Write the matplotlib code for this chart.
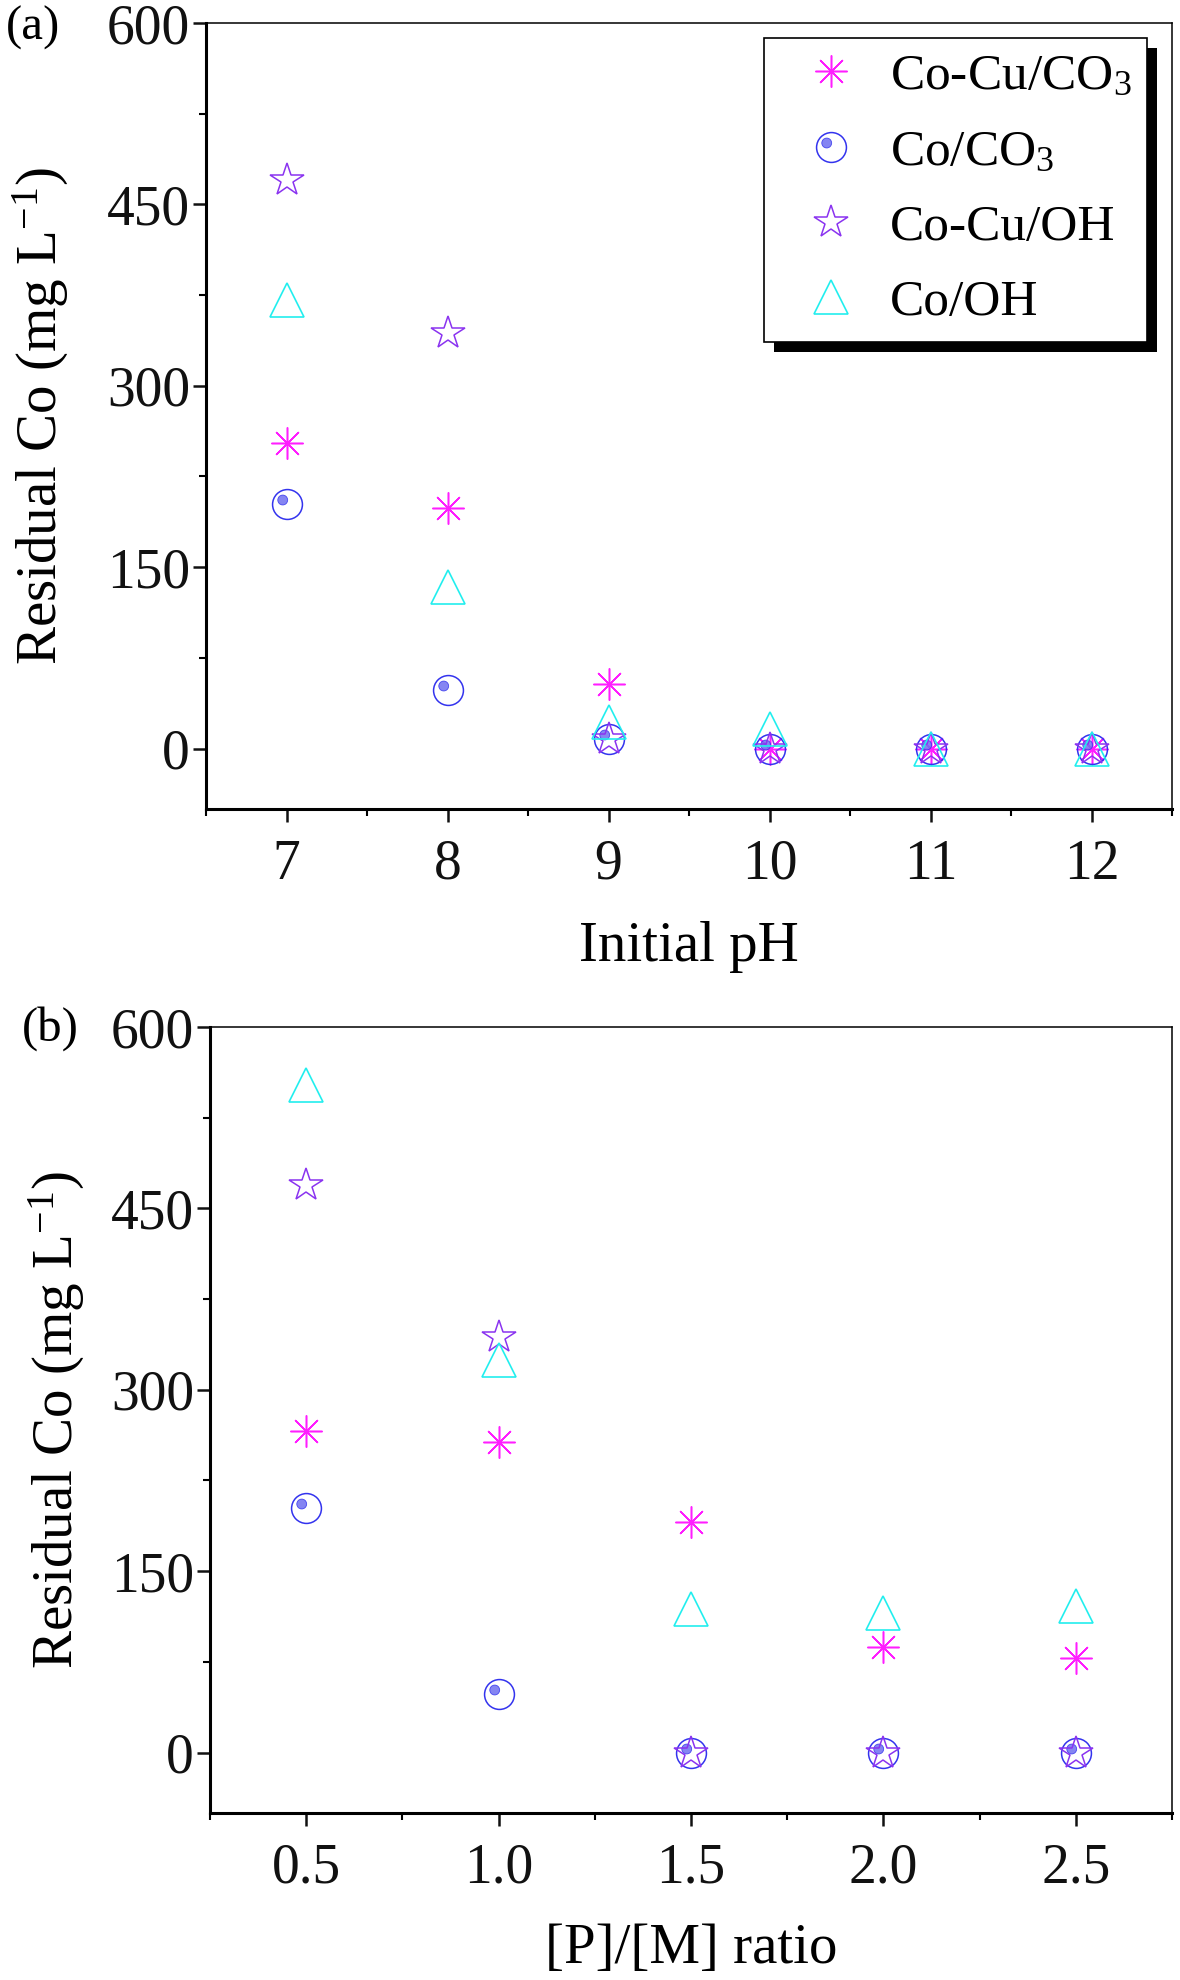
import matplotlib
matplotlib.use("Agg")
import matplotlib.pyplot as plt
import numpy as np
from matplotlib.path import Path
from matplotlib.patches import Rectangle
from matplotlib.transforms import IdentityTransform
from matplotlib.legend_handler import HandlerTuple
from matplotlib.ticker import MultipleLocator, FormatStrFormatter

# ---------------- data ----------------
ph = [7, 8, 9, 10, 11, 12]
cocu_co3_a = [253, 199, 53, 0, 0, 0]
co_co3_a = [202, 48, 8, 0, 0, 0]
cocu_oh_a = [470, 344, 8, 0, 0, 0]
co_oh_a = [371, 134, 22, 16, 0, 0]

ratio = [0.5, 1.0, 1.5, 2.0, 2.5]
cocu_co3_b = [266, 257, 191, 87, 78]
co_co3_b = [202, 48, 0, 0, 0]
cocu_oh_b = [469, 344, 0, 0, 0]
co_oh_b = [552, 325, 119, 115, 121]

series_labels = ["Co-Cu/CO$_3$", "Co/CO$_3$", "Co-Cu/OH", "Co/OH"]
y_ticks = [0, 150, 300, 450, 600]

# ---------------- style ----------------
plt.rcParams['font.family'] = ['Liberation Serif', 'DejaVu Serif']
plt.rcParams['mathtext.fontset'] = 'custom'
plt.rcParams['mathtext.rm'] = 'Liberation Serif'
plt.rcParams['mathtext.it'] = 'Liberation Serif:italic'
plt.rcParams['mathtext.bf'] = 'Liberation Serif:bold'

C_AST = '#FF1EFF'
C_CIRC = '#3333EE'
C_DOT = '#7070F0'
C_STAR = '#8A33F0'
C_TRI = '#22EEEE'

# highlight dot marker: small circle at upper-left inside the ring
_circ = Path.circle(center=(-0.32, 0.30), radius=0.33)
_verts = np.vstack([_circ.vertices, [[1, 1], [-1, -1]]])
_codes = np.concatenate([_circ.codes, [Path.MOVETO, Path.MOVETO]])
DOT_MARKER = Path(_verts, _codes)

TICK_FS = 40
LABEL_FS = 41
LEG_FS = 37

fig = plt.figure(figsize=(11.8, 19.8), dpi=100)
W, H = 1180, 1980
ax_a = fig.add_axes([206 / W, 1 - 809 / H, 966 / W, 786 / H])
ax_b = fig.add_axes([210 / W, 1 - 1813 / H, 962 / W, 786 / H])


def draw_panel(ax, x, s1, s2, s3, s4):
    h1, = ax.plot(x, s1, linestyle='none', marker=(8, 2, 0), ms=23,
                  mec=C_AST, mew=1.1, color=C_AST, zorder=3)
    h2, = ax.plot(x, s2, linestyle='none', marker='o', ms=21.5,
                  mec=C_CIRC, mfc='none', mew=1.1, zorder=3)
    h2d, = ax.plot(x, s2, linestyle='none', marker=DOT_MARKER, ms=21.5,
                   mec=C_CIRC, mfc=C_DOT, mew=0.6, alpha=0.85, zorder=3)
    h3, = ax.plot(x, s3, linestyle='none', marker='*', ms=25,
                  mec=C_STAR, mfc='none', mew=1.1, zorder=3)
    h4, = ax.plot(x, s4, linestyle='none', marker='^', ms=24,
                  mec=C_TRI, mfc='none', mew=1.2, zorder=3)
    ax.set_ylim(-50, 600)
    ax.set_yticks(y_ticks)
    ax.yaxis.set_minor_locator(MultipleLocator(75))
    for side in ['left', 'bottom']:
        ax.spines[side].set_linewidth(2.2)
    for side in ['top', 'right']:
        ax.spines[side].set_linewidth(1.1)
    ax.tick_params(which='major', direction='out', length=9.5, width=1.8,
                   labelsize=TICK_FS, colors='#111111', top=False, right=False)
    ax.tick_params(which='minor', direction='out', length=5, width=1.5,
                   top=False, right=False)
    ax.tick_params(axis='y', which='major', pad=2)
    ax.tick_params(axis='x', which='major', pad=12)
    ax.set_ylabel("Residual Co (mg L$^{-1}$)", fontsize=LABEL_FS)
    return [h1, (h2, h2d), h3, h4]


handles = draw_panel(ax_a, ph, cocu_co3_a, co_co3_a, cocu_oh_a, co_oh_a)
ax_a.set_xlim(6.5, 12.5)
ax_a.set_xticks(ph)
ax_a.xaxis.set_minor_locator(MultipleLocator(0.5))
ax_a.set_xlabel("Initial pH", fontsize=LABEL_FS)
ax_a.xaxis.set_label_coords(0.5, -0.143)
ax_a.yaxis.set_label_coords(-0.140, 0.5)

draw_panel(ax_b, ratio, cocu_co3_b, co_co3_b, cocu_oh_b, co_oh_b)
ax_b.set_xlim(0.25, 2.75)
ax_b.set_xticks(ratio)
ax_b.xaxis.set_major_formatter(FormatStrFormatter('%.1f'))
ax_b.xaxis.set_minor_locator(MultipleLocator(0.25))
ax_b.set_xlabel("[P]/[M] ratio", fontsize=LABEL_FS)
ax_b.xaxis.set_label_coords(0.5, -0.140)
ax_b.yaxis.set_label_coords(-0.128, 0.5)

leg = ax_a.legend(handles, series_labels, loc='upper right',
                  bbox_to_anchor=((1147 - 206) / 966, 1 - (38 - 23) / 786),
                  borderaxespad=0, fontsize=LEG_FS, frameon=True,
                  fancybox=False, framealpha=1, edgecolor='black',
                  handlelength=2.0, handletextpad=0.15, borderpad=0.3,
                  labelspacing=0.55, numpoints=1,
                  handler_map={tuple: HandlerTuple(ndivide=1, pad=0)})
leg.get_frame().set_linewidth(1.2)
leg.set_zorder(10)

fig.text(6 / W, 1 - 6 / H, "(a)", fontsize=35, ha='left', va='top')
fig.text(22 / W, 1 - 1006 / H, "(b)", fontsize=35, ha='left', va='top')

# black drop shadow behind the legend
fig.canvas.draw()
bb = leg.get_window_extent()
shadow = Rectangle((bb.x0 + 10, bb.y0 - 10), bb.width, bb.height,
                   transform=IdentityTransform(), facecolor='black',
                   edgecolor='none', zorder=9, clip_on=False)
ax_a.add_artist(shadow)

fig.savefig("out.png", dpi=100)
